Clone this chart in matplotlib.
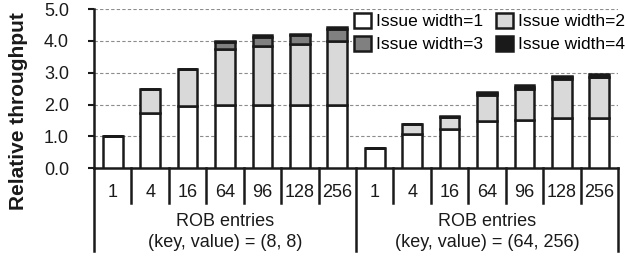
import matplotlib
matplotlib.use("Agg")
import matplotlib.pyplot as plt
import matplotlib.transforms as mtransforms
import numpy as np

plt.rcParams['font.family'] = ['Liberation Sans', 'DejaVu Sans']

rob_entries = ["1", "4", "16", "64", "96", "128", "256"]
group_labels = ["ROB entries\n(key, value) = (8, 8)", "ROB entries\n(key, value) = (64, 256)"]
series_names = ["Issue width=1", "Issue width=2", "Issue width=3", "Issue width=4"]
colors = ["#ffffff", "#d9d9d9", "#808080", "#1a1a1a"]

# relative throughput reached with each issue width (cumulative)
kv8_w1 = [1.00, 1.74, 1.95, 2.00, 2.00, 2.00, 2.00]
kv8_w2 = [1.00, 2.49, 3.12, 3.75, 3.83, 3.90, 3.98]
kv8_w3 = [1.00, 2.49, 3.12, 3.97, 4.12, 4.19, 4.36]
kv8_w4 = [1.00, 2.49, 3.12, 4.00, 4.17, 4.22, 4.45]

kv64_w1 = [0.64, 1.09, 1.22, 1.47, 1.53, 1.57, 1.57]
kv64_w2 = [0.64, 1.375, 1.61, 2.30, 2.49, 2.79, 2.87]
kv64_w3 = [0.64, 1.375, 1.62, 2.35, 2.56, 2.85, 2.88]
kv64_w4 = [0.64, 1.375, 1.63, 2.39, 2.62, 2.91, 2.95]

cum = np.array([kv8_w1 + kv64_w1, kv8_w2 + kv64_w2,
                kv8_w3 + kv64_w3, kv8_w4 + kv64_w4])
seg = np.vstack([cum[0], np.diff(cum, axis=0)])
n = len(rob_entries)
x = np.arange(2 * n)

fig = plt.figure(figsize=(6.25, 2.58), dpi=100)
ax = fig.add_axes([0.1504, 0.3477, 0.8384, 0.6174])

handles = []
bottom = np.zeros(2 * n)
for i in range(4):
    b = ax.bar(x, seg[i], 0.53, bottom=bottom, color=colors[i],
               edgecolor="#1a1a1a", linewidth=1.8, zorder=3,
               label=series_names[i])
    handles.append(b)
    bottom = bottom + seg[i]

ax.set_xlim(-0.5, 2 * n - 0.5)
ax.set_ylim(0, 5)
ax.set_yticks(np.arange(0, 5.01, 1.0))
ax.set_yticklabels(["%.1f" % v for v in np.arange(0, 5.01, 1.0)], fontsize=13)
ax.set_xticks([])
ax.tick_params(axis="y", length=4, width=1.5, pad=14, colors="#1a1a1a")
ax.yaxis.grid(True, linestyle=(0, (3, 2)), color="#8c8c8c", linewidth=0.8, zorder=0)
ax.set_axisbelow(True)
for s in ["top", "right"]:
    ax.spines[s].set_visible(False)
for s in ["left", "bottom"]:
    ax.spines[s].set_linewidth(1.8)
    ax.spines[s].set_color("#1a1a1a")

trans = mtransforms.blended_transform_factory(ax.transData, ax.transAxes)
for k in range(2 * n + 1):
    xs = k - 0.5
    low = -0.52 if k % n == 0 else -0.22
    ax.plot([xs, xs], [0, low], color="#1a1a1a", linewidth=1.8,
            transform=trans, clip_on=False)

for i in range(2 * n):
    ax.text(x[i], -0.155, rob_entries[i % n], transform=trans,
            ha="center", va="center", fontsize=13, color="#1a1a1a")
for g in range(2):
    cx = g * n + (n - 1) / 2
    lines = group_labels[g].split("\n")
    ax.text(cx, -0.337, lines[0], transform=trans, ha="center", va="center",
            fontsize=13, color="#1a1a1a")
    ax.text(cx, -0.463, lines[1], transform=trans, ha="center", va="center",
            fontsize=13, color="#1a1a1a")

fig.text(0.030, 0.570, "Relative throughput", rotation=90, ha="center",
         va="center", fontsize=15, fontweight="bold", color="#1a1a1a")

# legend fills columns first: order so rows read 1,2 / 3,4
order = [0, 2, 1, 3]
leg = ax.legend(handles=[handles[i] for i in order], ncol=2, loc="upper left",
                bbox_to_anchor=(352 / 625, 1 - 11 / 258),
                bbox_transform=fig.transFigure, fontsize=12.5,
                handlelength=1.0, handleheight=1.0, handletextpad=0.3,
                columnspacing=0.7, labelspacing=0.35, borderpad=0.1,
                borderaxespad=0, frameon=True, fancybox=False)
leg.get_frame().set_facecolor("white")
leg.get_frame().set_edgecolor("none")
leg.get_frame().set_alpha(1)
leg.set_zorder(5)

fig.savefig("out.png", dpi=100)
